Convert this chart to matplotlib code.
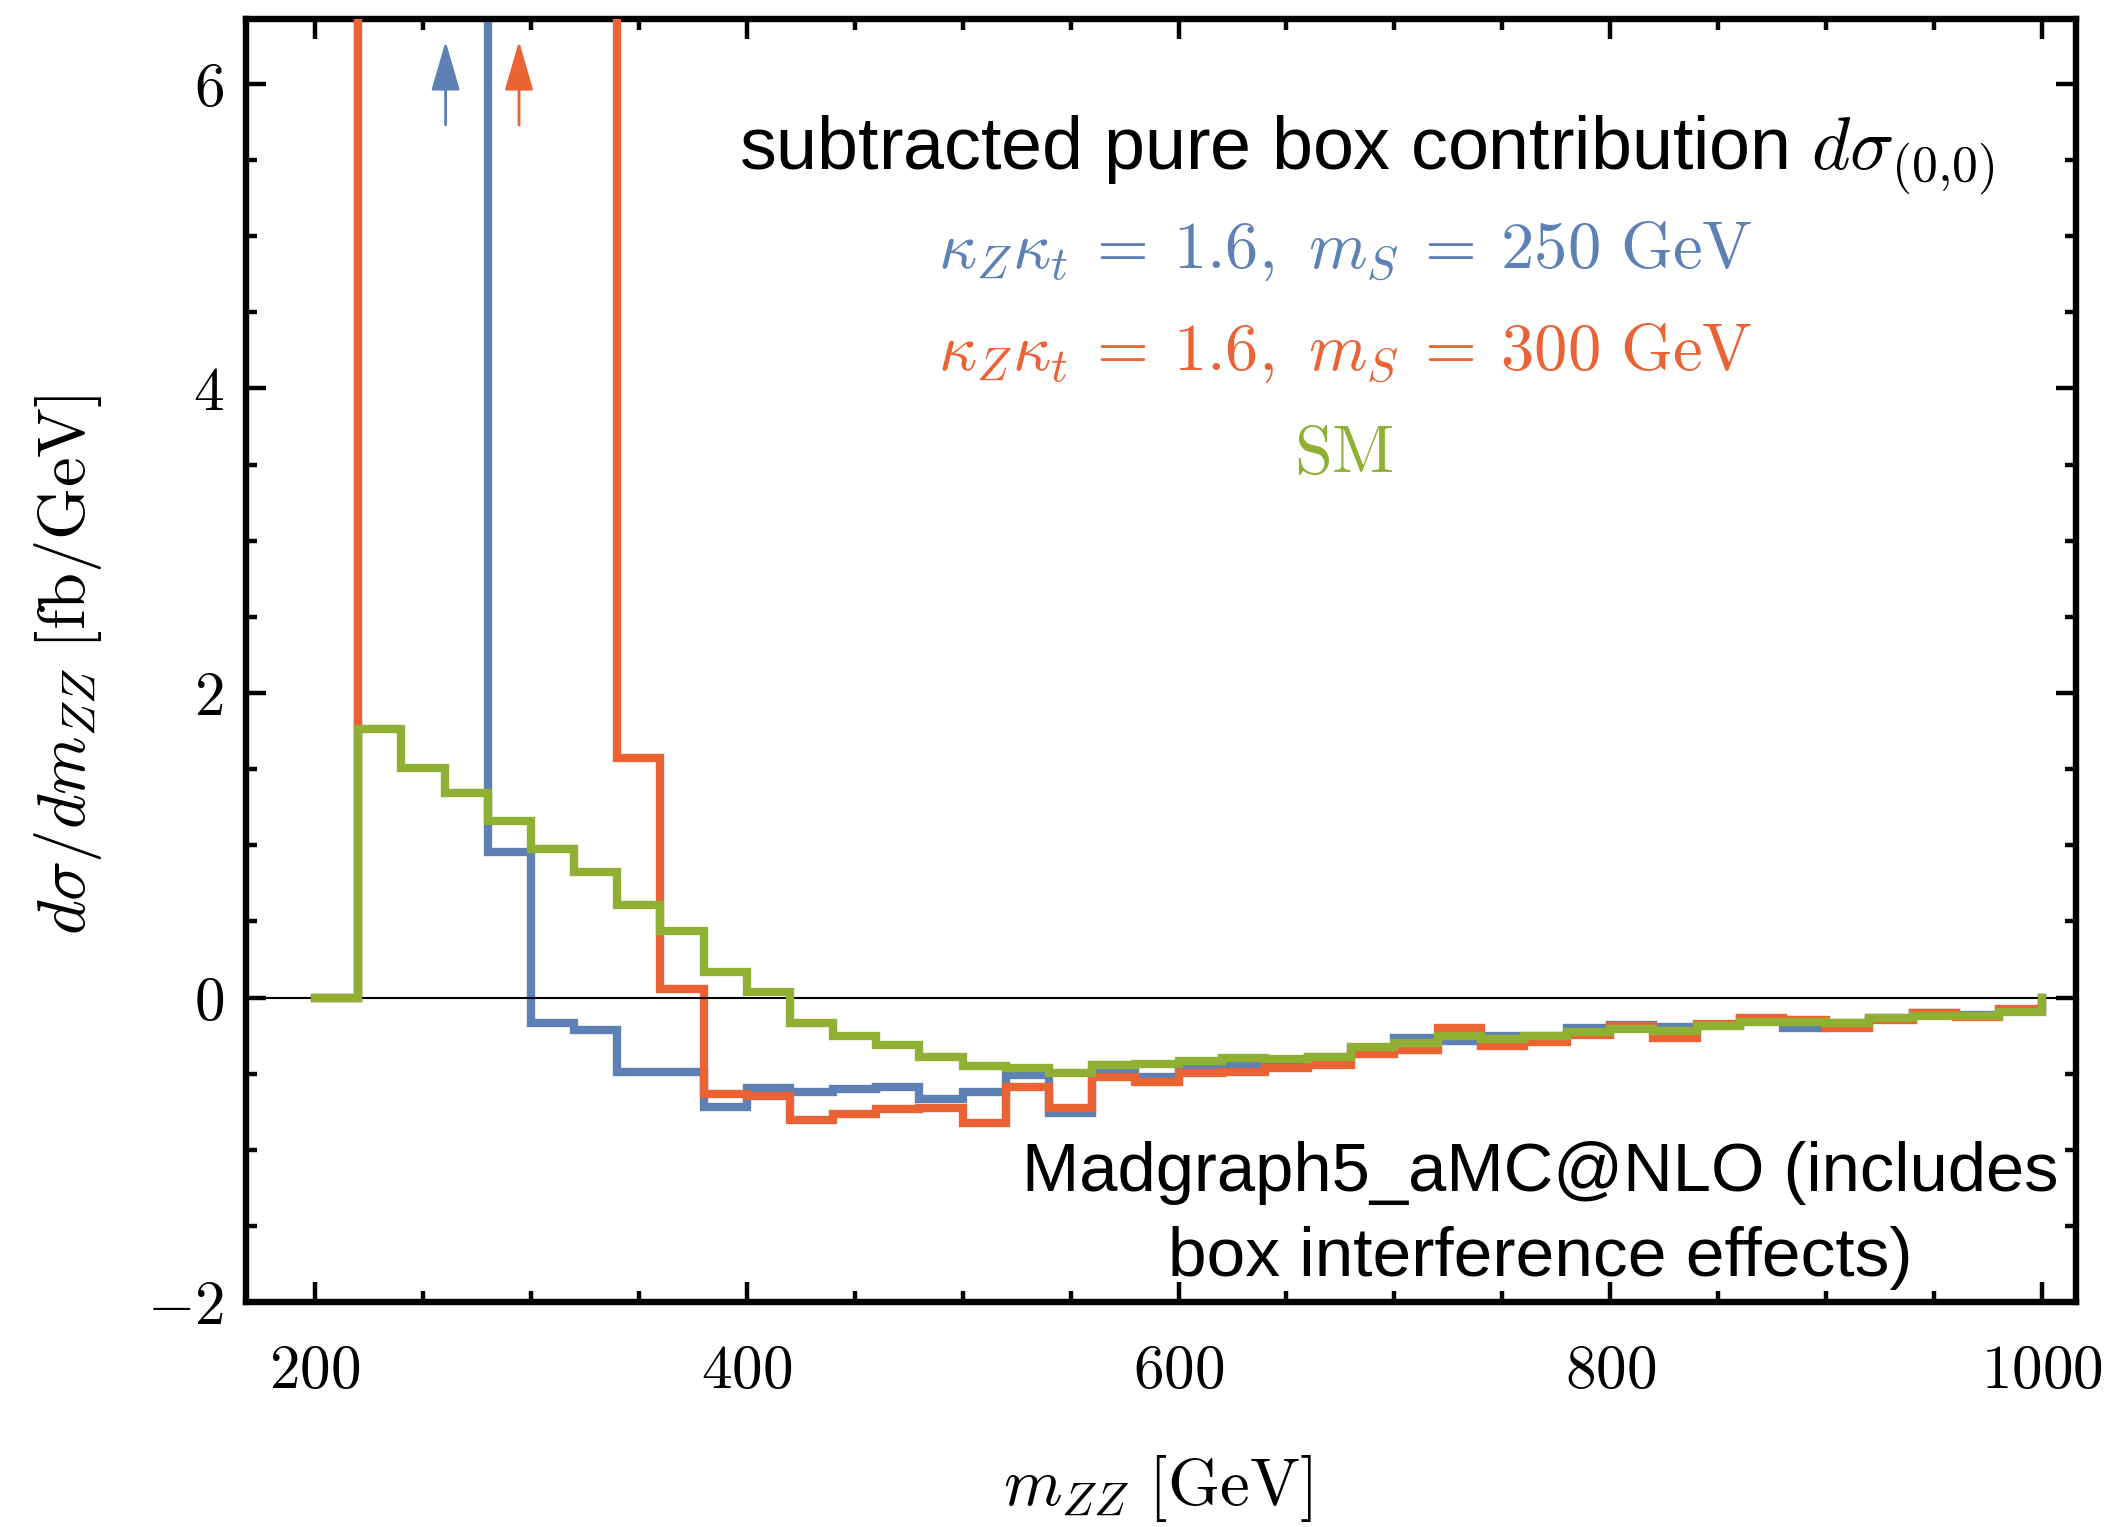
import numpy as np
import matplotlib
matplotlib.use("Agg")
import matplotlib.pyplot as plt
from matplotlib.ticker import MultipleLocator, FuncFormatter

plt.rcParams["mathtext.fontset"] = "cm"
plt.rcParams["font.family"] = ["Liberation Sans", "DejaVu Sans"]

# bin edges of m_ZZ [GeV]
edges = np.arange(200, 1001, 20)

# d sigma / d m_ZZ [fb/GeV], one value per bin (values > 6.4 are off scale)
blue_250 = [0, 14.0, 22.0, 9.0, 0.954, -0.165, -0.213, -0.49, -0.49, -0.716,
            -0.595, -0.62, -0.60, -0.587, -0.666, -0.618, -0.508, -0.76, -0.482, -0.52,
            -0.458, -0.434, -0.41, -0.39, -0.33, -0.264, -0.285, -0.254, -0.25, -0.197,
            -0.18, -0.195, -0.18, -0.15, -0.20, -0.17, -0.135, -0.105, -0.115, -0.09]
orange_300 = [0, 8.0, 12.0, 16.0, 11.0, 8.5, 7.5, 1.576, 0.054, -0.635,
              -0.646, -0.805, -0.764, -0.733, -0.727, -0.827, -0.587, -0.725, -0.519, -0.556,
              -0.497, -0.486, -0.46, -0.443, -0.372, -0.344, -0.202, -0.316, -0.293, -0.245,
              -0.184, -0.263, -0.175, -0.132, -0.147, -0.197, -0.15, -0.103, -0.127, -0.075]
green_sm = [0, 1.76, 1.506, 1.345, 1.16, 0.977, 0.825, 0.608, 0.437, 0.17,
            0.035, -0.169, -0.252, -0.313, -0.388, -0.449, -0.46, -0.497, -0.44, -0.436,
            -0.414, -0.395, -0.405, -0.388, -0.326, -0.30, -0.252, -0.272, -0.252, -0.224,
            -0.208, -0.217, -0.184, -0.158, -0.158, -0.165, -0.132, -0.121, -0.121, -0.097]

# arrows marking the off-scale peaks
arrow_x = [260.5, 294.5]

c_blue = "#5E81B5"
c_orange = "#EB6235"
c_green = "#8FB032"

fig = plt.figure(figsize=(21.11, 15.27), dpi=100)
ax = fig.add_axes([0.1165, 0.1473, 0.8669, 0.8402])

ax.stairs(blue_250, edges, baseline=0, color=c_blue, lw=6, zorder=2,
          joinstyle="miter", capstyle="projecting")
ax.stairs(orange_300, edges, baseline=0, color=c_orange, lw=6, zorder=3,
          joinstyle="miter", capstyle="projecting")
ax.axhline(0, color="black", lw=1.5, zorder=4)
ax.stairs(green_sm, edges, baseline=0, color=c_green, lw=6, zorder=5,
          joinstyle="miter", capstyle="projecting")

for xa, col in zip(arrow_x, [c_blue, c_orange]):
    ax.annotate("", xy=(xa, 6.28), xytext=(xa, 5.73),
                arrowprops=dict(arrowstyle="-|>,head_length=1.55,head_width=0.45",
                                mutation_scale=20, color=col, lw=2,
                                shrinkA=0, shrinkB=0))

ax.set_xlim(168, 1015.7)
ax.set_ylim(-2, 6.425)

ax.xaxis.set_major_locator(MultipleLocator(200))
ax.xaxis.set_minor_locator(MultipleLocator(50))
ax.yaxis.set_major_locator(MultipleLocator(2))
ax.yaxis.set_minor_locator(MultipleLocator(0.5))
fmt = FuncFormatter(lambda v, p: "$%g$" % v)
ax.xaxis.set_major_formatter(fmt)
ax.yaxis.set_major_formatter(fmt)

ax.tick_params(which="both", direction="in", top=True, right=True, labelsize=44)
ax.tick_params(which="major", length=14.5, width=3.2)
ax.tick_params(which="minor", length=8, width=3.2)
ax.tick_params(axis="x", pad=30)
ax.tick_params(axis="y", pad=16)
for s in ax.spines.values():
    s.set_linewidth(4.6)

ax.set_xlabel(r"$m_{ZZ}\ [\mathrm{GeV}]$", fontsize=48, va="top")
ax.xaxis.set_label_coords(0.498, -0.118)
ax.set_ylabel(r"$d\sigma/dm_{ZZ}\ [\mathrm{fb/GeV}]$", fontsize=48)
ax.yaxis.label.set_va("center")
ax.yaxis.set_label_coords(-0.097, 0.4965)

ax.text(0.6126, 0.883, r"subtracted pure box contribution $d\sigma_{(0{,}0)}$",
        transform=ax.transAxes, ha="center", va="baseline", fontsize=53)
ax.text(0.6006, 0.806, r"$\kappa_Z\kappa_t\:=\:1.6,\ m_S\:=\:250\ \mathrm{GeV}$",
        transform=ax.transAxes, ha="center", va="baseline", fontsize=48, color=c_blue)
ax.text(0.6006, 0.7264, r"$\kappa_Z\kappa_t\:=\:1.6,\ m_S\:=\:300\ \mathrm{GeV}$",
        transform=ax.transAxes, ha="center", va="baseline", fontsize=48, color=c_orange)
ax.text(0.600, 0.646, r"$\mathrm{SM}$",
        transform=ax.transAxes, ha="center", va="baseline", fontsize=49, color=c_green)

ax.text(0.707, 0.0865, "Madgraph5_aMC@NLO (includes",
        transform=ax.transAxes, ha="center", va="baseline", fontsize=49.5)
ax.text(0.707, 0.020, "box interference effects)",
        transform=ax.transAxes, ha="center", va="baseline", fontsize=50)

fig.savefig("out.png", dpi=100)
